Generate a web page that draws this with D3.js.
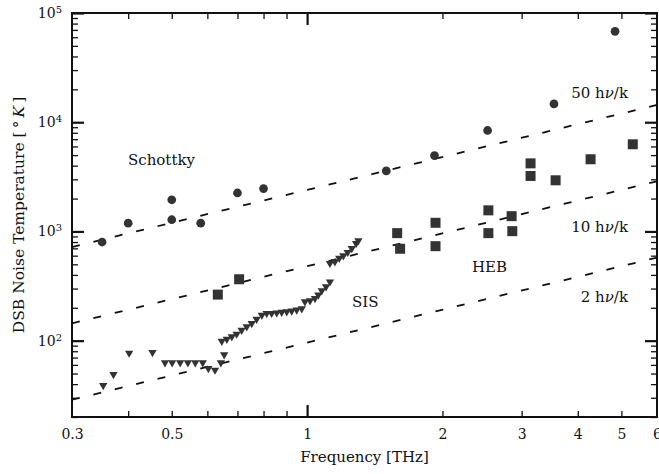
<!DOCTYPE html>
<html><head><meta charset="utf-8">
<script src="https://cdn.jsdelivr.net/npm/d3@7"></script>
<style>
body{margin:0;background:#fff}
svg{display:block}
text{font-family:"DejaVu Serif",serif;fill:#111}
</style>
</head><body>
<svg id="c" width="659" height="474"></svg>
<script>
// ---- data ----
const schottkyFreq = [0.35,0.40,0.50,0.50,0.58,0.70,0.80,1.50,1.92,2.52,3.54,4.84];
const schottkyTemp = [800,1190,1950,1280,1190,2250,2470,3580,4950,8400,14700,68000];

const hebFreq = [0.633,0.706,1.586,1.61,1.93,1.93,2.53,2.53,2.85,2.86,3.14,3.14,3.57,4.27,5.3];
const hebTemp = [264,365,965,694,1200,733,1560,965,1380,1006,4200,3220,2940,4580,6280];

const sisFreq = [0.352,0.371,0.402,0.453,0.483,0.501,0.522,0.543,0.564,0.586,0.603,0.624,0.643,0.654,
  0.646,0.663,0.680,0.697,0.715,0.734,0.753,0.772,0.793,0.813,0.834,0.856,0.878,0.901,0.924,0.948,0.973,
  0.989,1.015,1.041,1.059,1.078,1.102,1.124,
  1.124,1.153,1.179,1.204,1.231,1.257,1.285,1.300];
const sisTemp = [39,49,77,78,63,63,63,63,63,63,55.7,53.8,62.8,74.3,
  99,103,109,115,125,134,144,157,171,178,178,180,182,184,187,191,196,
  227,232,244,262,287,312,346,
  511,528,568,599,644,700,776,822];

// reference lines N·hν/k : end points at 0.3 and 6 THz
const refLabels = ["50 hν/k","10 hν/k","2 hν/k"];
const refFreq = [0.3, 6];
const refTemp50 = [720, 14400];
const refTemp10 = [144, 2880];
const refTemp2  = [28.8, 576];

const xTickLabels = [0.3,0.5,1,2,3,4,5,6];
const xMinorTicks = [0.4,0.5,0.6,0.7,0.8,0.9,2,3,4,5];
const xMajorTicks = [1];
const yMajorTicks = [100,1000,10000,100000];

// ---- layout ----
const L=72, R=657, T=13, B=417;
const svg = d3.select("#c");
const x = d3.scaleLog().domain([0.3,6]).range([L,R]);
const y = d3.scaleLog().domain([20,1e5]).range([B,T]);
const yMinorTicks = y.ticks().filter(v => !yMajorTicks.includes(v));

const ink = "#111";
function styleAxis(g, w){
  g.select(".domain").remove();
  g.selectAll(".tick line").attr("stroke", ink).attr("stroke-width", w);
}
svg.append("g").attr("transform",`translate(0,${B})`)
  .call(d3.axisBottom(x).tickValues(xMinorTicks).tickSize(-6).tickFormat("")).call(g=>styleAxis(g,1.3));
svg.append("g").attr("transform",`translate(0,${B})`)
  .call(d3.axisBottom(x).tickValues(xMajorTicks).tickSize(-12).tickFormat("")).call(g=>styleAxis(g,2.2));
svg.append("g").attr("transform",`translate(0,${T})`)
  .call(d3.axisTop(x).tickValues(xMinorTicks).tickSize(-6).tickFormat("")).call(g=>styleAxis(g,1.3));
svg.append("g").attr("transform",`translate(0,${T})`)
  .call(d3.axisTop(x).tickValues(xMajorTicks).tickSize(-12).tickFormat("")).call(g=>styleAxis(g,2.2));
svg.append("g").attr("transform",`translate(${L},0)`)
  .call(d3.axisLeft(y).tickValues(yMinorTicks).tickSize(-6).tickFormat("")).call(g=>styleAxis(g,1.3));
svg.append("g").attr("transform",`translate(${L},0)`)
  .call(d3.axisLeft(y).tickValues(yMajorTicks).tickSize(-12).tickFormat("")).call(g=>styleAxis(g,2.2));
svg.append("g").attr("transform",`translate(${R},0)`)
  .call(d3.axisRight(y).tickValues(yMinorTicks).tickSize(-6).tickFormat("")).call(g=>styleAxis(g,1.3));
svg.append("g").attr("transform",`translate(${R},0)`)
  .call(d3.axisRight(y).tickValues(yMajorTicks).tickSize(-12).tickFormat("")).call(g=>styleAxis(g,2.2));

// tick labels
const xl = svg.append("g").attr("transform",`translate(0,${B})`)
  .call(d3.axisBottom(x).tickValues(xTickLabels).tickSize(0).tickPadding(12).tickFormat(d3.format("")));
xl.select(".domain").remove();
xl.selectAll("text").attr("font-size",14).attr("font-family","DejaVu Serif").attr("fill",ink);

const yl = svg.append("g").attr("transform",`translate(${L},0)`)
  .call(d3.axisLeft(y).tickValues(yMajorTicks).tickSize(0).tickPadding(10));
yl.select(".domain").remove();
yl.selectAll("text").attr("font-size",14).attr("font-family","DejaVu Serif").attr("fill",ink)
  .each(function(d){
    const t = d3.select(this); t.text("");
    t.append("tspan").text("10");
    t.append("tspan").attr("dy","-0.5em").attr("font-size",10).text(Math.round(Math.log10(d)));
  });

// frame
svg.append("rect").attr("x",L).attr("y",T).attr("width",R-L).attr("height",B-T)
  .attr("fill","none").attr("stroke",ink).attr("stroke-width",2);

// reference dashed lines
const line = d3.line().x(d=>x(d[0])).y(d=>y(d[1]));
[refTemp50, refTemp10, refTemp2].forEach(tv=>{
  svg.append("path").datum(refFreq.map((f,i)=>[f,tv[i]]))
    .attr("d",line).attr("fill","none").attr("stroke",ink)
    .attr("stroke-width",1.8).attr("stroke-dasharray","8,14");
});

const mark = "#333";
svg.append("g").selectAll("path").data(schottkyFreq).join("path")
  .attr("transform",(d,i)=>`translate(${x(d)},${y(schottkyTemp[i])})`)
  .attr("d", d3.symbol(d3.symbolCircle, 60)).attr("fill",mark);
svg.append("g").selectAll("path").data(hebFreq).join("path")
  .attr("transform",(d,i)=>`translate(${x(d)},${y(hebTemp[i])})`)
  .attr("d", d3.symbol(d3.symbolSquare, 100)).attr("fill",mark);
svg.append("g").selectAll("path").data(sisFreq).join("path")
  .attr("transform",(d,i)=>`translate(${x(d)},${y(sisTemp[i])}) rotate(180)`)
  .attr("d", d3.symbol(d3.symbolTriangle, 30)).attr("fill",mark);

// annotations
function label(txt, xx, yy, anchor){
  const t = svg.append("text").attr("x",xx).attr("y",yy).attr("font-size",15)
    .attr("text-anchor",anchor||"start");
  const m = txt.match(/^(.*)h(ν)\/k$/);
  if(m){
    t.append("tspan").text(m[1]+"h");
    t.append("tspan").attr("font-style","italic").text("ν");
    t.append("tspan").text("/k");
  } else t.text(txt);
  return t;
}
label("Schottky",128,165);
label(refLabels[0],628,98,"end");
label(refLabels[1],628,232,"end");
label(refLabels[2],628,302,"end");
label("HEB",472,271.5);
label("SIS",352,306.5);

// axis titles
svg.append("text").attr("x",(L+R)/2).attr("y",462).attr("text-anchor","middle")
  .attr("font-size",15).text("Frequency [THz]");
const yt = svg.append("text").attr("transform",`translate(24,${(T+B)/2}) rotate(-90)`)
  .attr("text-anchor","middle").attr("font-size",15.5);
yt.append("tspan").text("DSB Noise Temperature [\u2009°\u2009");
yt.append("tspan").attr("font-style","italic").text("K");
yt.append("tspan").text("\u2009]");
</script>
</body></html>
